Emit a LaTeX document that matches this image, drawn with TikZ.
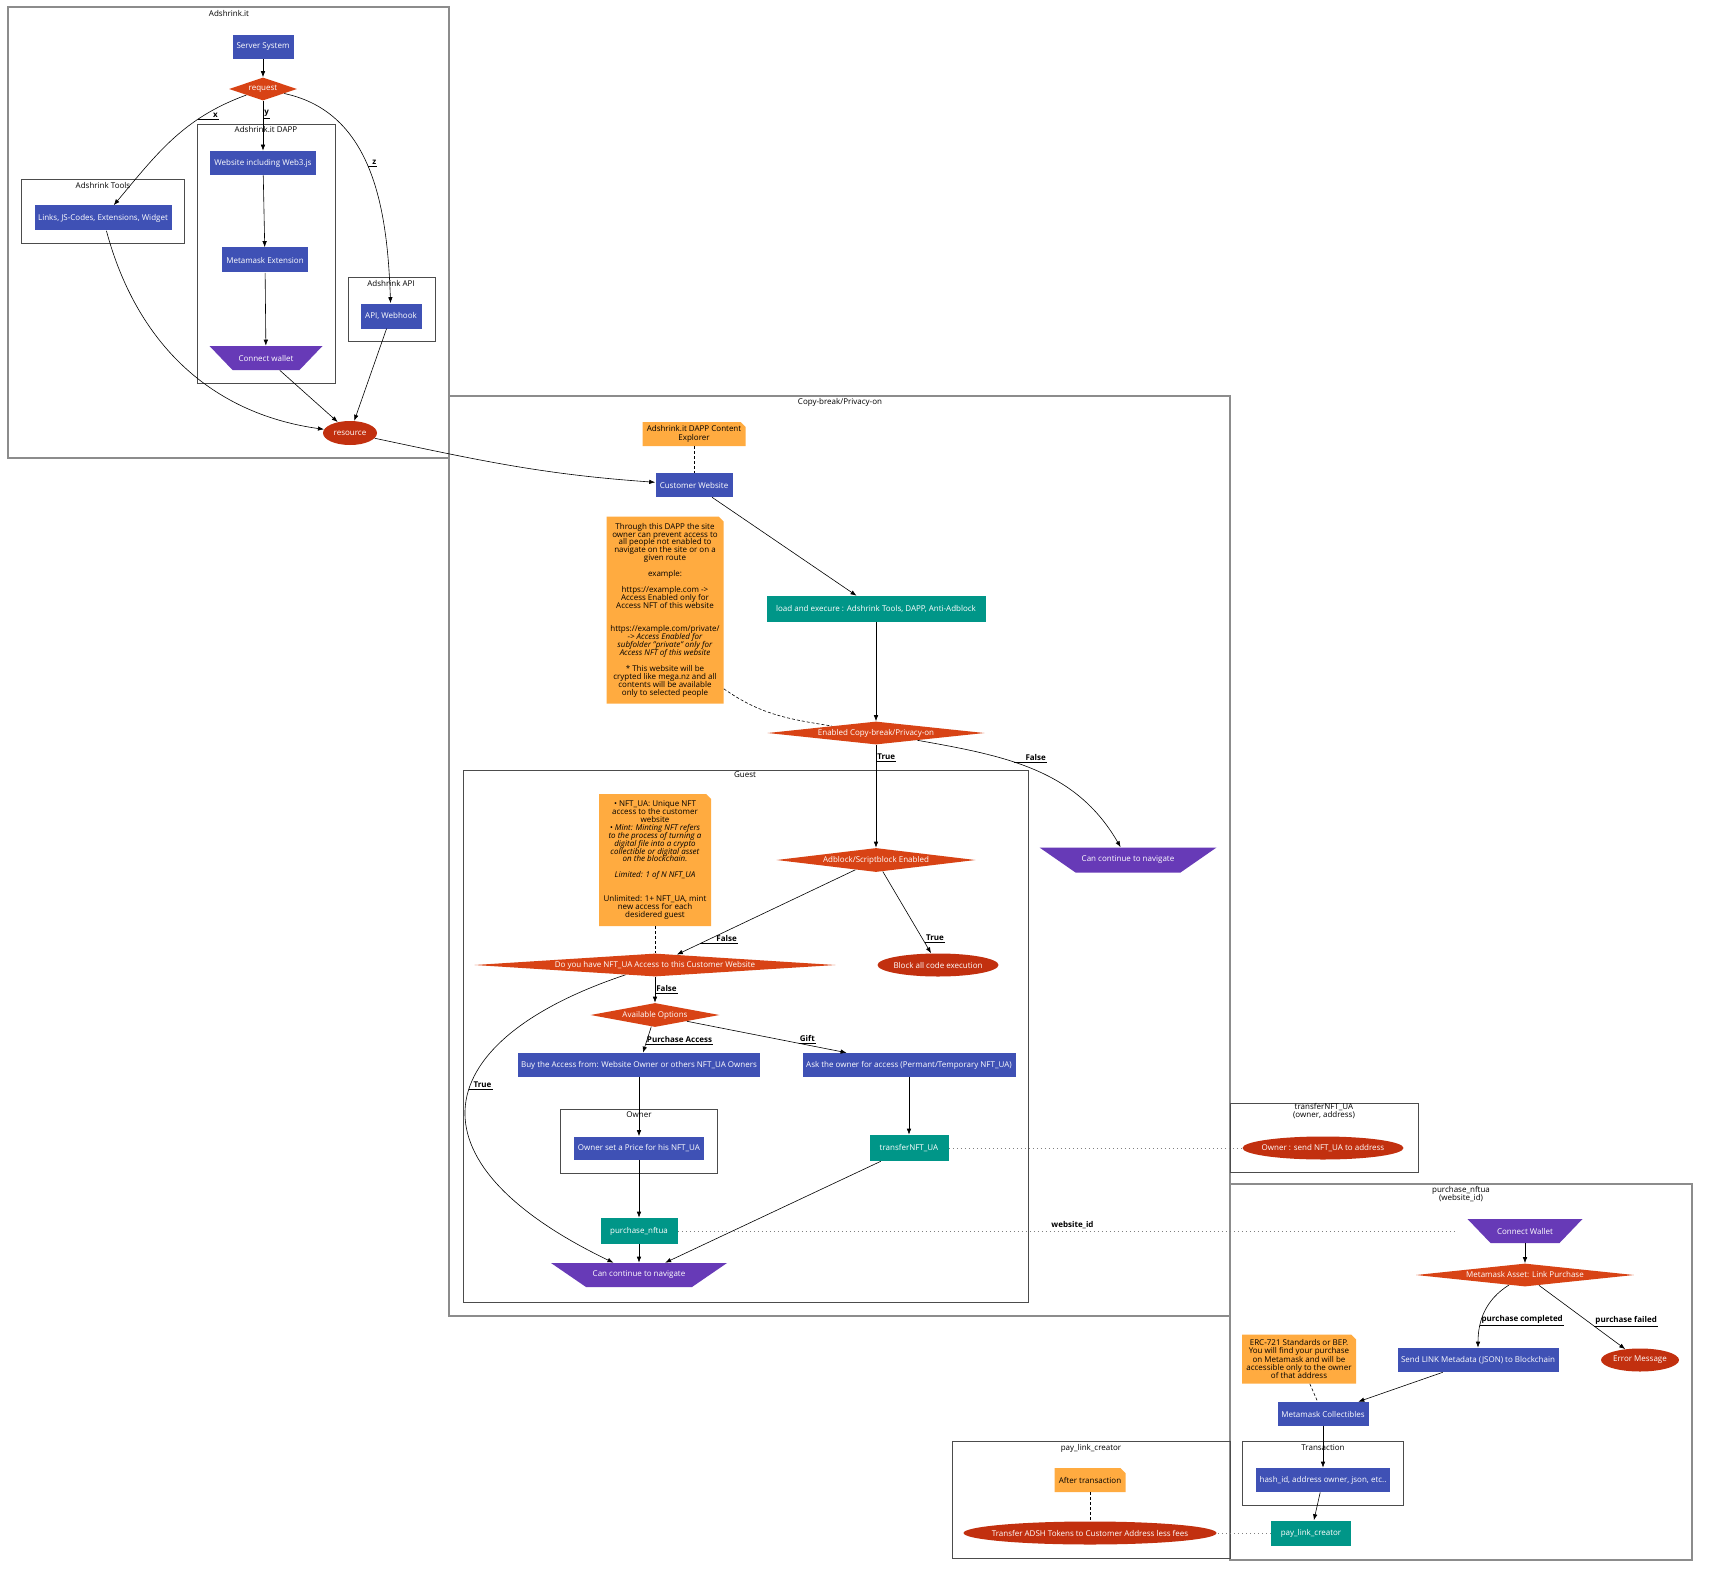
\documentclass[tikz,border=0pt]{standalone}
\usepackage{fontspec}
\setmainfont{Open Sans}
\usetikzlibrary{shapes.geometric,arrows.meta,calc}

\definecolor{taskblue}{HTML}{3F51B5}
\definecolor{execteal}{HTML}{009688}
\definecolor{decorange}{HTML}{D84315}
\definecolor{termred}{HTML}{C2300F}
\definecolor{iopurple}{HTML}{673AB7}
\definecolor{notefill}{HTML}{FFAB40}

\tikzset{
  every node/.style={font=\fontsize{8}{8.3}\selectfont},
  wh/.style 2 args={minimum width=#1, minimum height=#2},
  task/.style={rectangle, fill=taskblue, text=white, inner sep=0},
  exec/.style={rectangle, fill=execteal, text=white, inner sep=0},
  decision/.style={diamond, aspect=#1, fill=decorange, text=white, inner sep=0},
  term/.style={ellipse, fill=termred, text=white, inner xsep=-12pt, inner ysep=0},
  inout/.style={rectangle, inner sep=0, text=white, path picture={
      \fill[iopurple] (path picture bounding box.north west) -- (path picture bounding box.north east)
        -- ($(path picture bounding box.south east)+(-#1,0)$) -- ($(path picture bounding box.south west)+(#1,0)$) -- cycle;}},
  note/.style={rectangle, inner sep=0, align=center, path picture={
      \fill[notefill] (path picture bounding box.south west) -- (path picture bounding box.north west)
        -- ($(path picture bounding box.north east)+(-5,0)$) -- ($(path picture bounding box.north east)+(0,-5)$)
        -- (path picture bounding box.south east) -- cycle;}},
  longnote/.style={note, font={\fontsize{8}{7.9}\selectfont\setlength{\lineskiplimit}{-5pt}}},
  group/.style={draw=black!70, line width=0.8pt},
  biggroup/.style={draw=black!45, line width=1.2pt},
  gtitle/.style={inner sep=0, align=center},
  elabel/.style={font=\fontsize{8}{8.3}\selectfont\bfseries, inner xsep=1pt, inner ysep=1.5pt, anchor=south west},
  dlabel/.style={font=\fontsize{8}{8.3}\selectfont\bfseries, inner sep=2pt, anchor=south, text=black},
  notelink/.style={dash pattern=on 3pt off 2pt},
  dotlink/.style={gray, dash pattern=on 1pt off 3pt},
}

\begin{document}
\begin{tikzpicture}[x=1pt, y=1pt, >={Latex[length=6pt,width=4.5pt]}, line width=0.6pt]
\fill[white] (0,0) rectangle (1714,-1581);

\draw[biggroup] (8,-7) rectangle (449,-458);
\draw[group] (197,-124) rectangle (335,-383);
\draw[group] (21,-179) rectangle (184,-243);
\draw[group] (348,-277) rectangle (435,-341);
\draw[biggroup] (449,-396) rectangle (1230,-1316);
\draw[group] (463,-770) rectangle (1028,-1302);
\draw[group] (560,-1109) rectangle (717,-1173);
\draw[group] (1230,-1103) rectangle (1418,-1172);
\draw[biggroup] (1230,-1184) rectangle (1692,-1560);
\draw[group] (1242,-1441) rectangle (1403,-1505);
\draw[group] (952,-1441) rectangle (1230,-1558);

\node[gtitle] (t-adshrink) at (229,-14) {Adshrink.it};
\node[gtitle] (t-dapp) at (266,-130) {Adshrink.it DAPP};
\node[gtitle] (t-tools) at (103,-186) {Adshrink Tools};
\node[gtitle] (t-api) at (391,-284) {Adshrink API};
\node[gtitle] (t-copy) at (840,-402) {Copy-break/Privacy-on};
\node[gtitle] (t-guest) at (745,-775) {Guest};
\node[gtitle] (t-owner) at (639,-1115) {Owner};
\node[gtitle] (t-transfer) at (1324,-1111) {transferNFT\_UA\\(owner, address)};
\node[gtitle] (t-purchase) at (1461,-1194) {purchase\_nftua\\(website\_id)};
\node[gtitle] (t-transaction) at (1323,-1448) {Transaction};
\node[gtitle] (t-paylink) at (1091,-1448) {pay\_link\_creator};

\node[task, wh={61}{24}] (server) at (263,-47) {Server System};
\node[decision=3, wh={68}{23}] (request) at (263,-89) {request};
\node[task, wh={106}{24}] (website) at (263,-163) {Website including Web3.js};
\node[task, wh={86}{25}] (metaext) at (265,-260) {Metamask Extension};
\node[inout=23, wh={113}{24}] (connect) at (266,-358) {Connect wallet};
\node[task, wh={137}{25}] (links) at (103,-218) {Links, JS-Codes, Extensions, Widget};
\node[task, wh={61}{25}] (api) at (391,-316) {API, Webhook};
\node[term, wh={54}{24}] (resource) at (350,-433) {resource};

\node[note, wh={103}{24}] (explorer) at (694,-434) {Adshrink.it DAPP Content\\Explorer};
\node[task, wh={77}{24}] (customer) at (694,-485) {Customer Website};
\node[longnote, wh={117}{187}] (dappnote) at (665,-610) {Through this DAPP the site\\owner can prevent access to\\all people not enabled to\\navigate on the site or on a\\given route\\[7.9pt]example:\\[7.9pt]https://example.com ->\\Access Enabled only for\\Access NFT of this website\\[15.8pt]https://example.com/private/\\\textit{-> Access Enabled for}\\\textit{subfolder "private" only for}\\\textit{Access NFT of this website}\\[7.9pt]* This website will be\\crypted like mega.nz and all\\contents will be available\\only to selected people};
\node[exec, wh={219}{26}] (load) at (876,-609) {load and execure : Adshrink Tools, DAPP, Anti-Adblock};
\node[decision=10, wh={217}{23}] (enabled) at (876,-733) {Enabled Copy-break/Privacy-on};
\node[inout=36, wh={177}{25}] (navfree) at (1128,-860) {Can continue to navigate};

\node[longnote, wh={112}{132}] (nftnote) at (655,-860) {• NFT\_UA: Unique NFT\\access to the customer\\website\\\textit{• Mint: Minting NFT refers}\\\textit{to the process of turning a}\\\textit{digital file into a crypto}\\\textit{collectible or digital asset}\\\textit{on the blockchain.}\\[7.9pt]\textit{Limited: 1 of N NFT\_UA}\\[15.8pt]Unlimited: 1+ NFT\_UA, mint\\new access for each\\desidered guest};
\node[decision=9, wh={199}{24}] (adblock) at (876,-860) {Adblock/Scriptblock Enabled};
\node[decision=16, wh={361}{23}] (hasnft) at (655,-965) {Do you have NFT\_UA Access to this Customer Website};
\node[term, wh={121}{23}] (blockall) at (938,-965) {Block all code execution};
\node[decision=6, wh={129}{24}] (options) at (655,-1015) {Available Options};
\node[task, wh={242}{24}] (buy) at (639,-1065) {Buy the Access from: Website Owner or others NFT\_UA Owners};
\node[task, wh={213}{24}] (ask) at (909,-1065) {Ask the owner for access (Permant/Temporary NFT\_UA)};
\node[task, wh={130}{23}] (price) at (639,-1148) {Owner set a Price for his NFT\_UA};
\node[exec, wh={79}{26}] (transfer) at (909,-1148) {transferNFT\_UA};
\node[exec, wh={77}{26}] (purchase) at (639,-1231) {purchase\_nftua};
\node[inout=35, wh={176}{24}] (navguest) at (639,-1275) {Can continue to navigate};

\node[term, wh={161}{23}] (sendnft) at (1323,-1148) {Owner : send NFT\_UA to address};

\node[inout=23, wh={115}{24}] (wallet) at (1525,-1231) {Connect Wallet};
\node[decision=10, wh={218}{23}] (asset) at (1525,-1275) {Metamask Asset: Link Purchase};
\node[task, wh={161}{24}] (sendlink) at (1478,-1360) {Send LINK Metadata (JSON) to Blockchain};
\node[term, wh={78}{23}] (error) at (1640,-1360) {Error Message};
\node[note, wh={114}{49}] (ercnote) at (1299,-1359) {ERC-721 Standards or BEP.\\You will find your purchase\\on Metamask and will be\\accessible only to the owner\\of that address};
\node[task, wh={91}{24}] (collect) at (1323,-1414) {Metamask Collectibles};
\node[task, wh={134}{24}] (hash) at (1323,-1480) {hash\_id, address owner, json, etc..};
\node[exec, wh={80}{25}] (paylink) at (1311,-1533) {pay\_link\_creator};

\node[note, wh={71}{24}] (afternote) at (1090,-1480) {After transaction};
\node[term, wh={253}{23}] (adsh) at (1090,-1533) {Transfer ADSH Tokens to Customer Address less fees};

\draw[->] (server) -- (request);
\draw[->] (request) to[out=200, in=50] node[elabel, pos=.3] (lx) {\hspace*{14pt}x} (links);
\draw[->] (request) -- node[elabel, pos=.35] (ly) {y} (website);
\draw[->] (request) to[out=-12, in=92] node[elabel, pos=.48] (lz) {\hspace*{3pt}z} (api);
\draw[->] (website) -- (metaext);
\draw[->] (metaext) -- (connect);
\draw[->] (links) to[out=-75, in=172] (resource);
\draw[->] (connect) -- (resource);
\draw[->] (api) -- (resource);
\draw[->] (resource) to[out=-12, in=176] (customer);

\draw[notelink] (explorer) -- (customer);
\draw[->] (customer) -- (load);
\draw[->] (load) -- (enabled);
\draw[notelink] ([yshift=15]dappnote.south east) to[out=-35, in=171] (enabled);
\draw[->] (enabled) -- node[elabel, pos=.16] (ltrue1) {True} (adblock);
\draw[->] (enabled) to[out=-10, in=120] node[elabel, pos=.4] (lfalse1) {\hspace*{10pt}False} (navfree);

\draw[->] (adblock) -- node[elabel, pos=.87] (lfalse2) {\hspace*{15pt}False} (hasnft);
\draw[->] (adblock) -- node[elabel, pos=.87] (ltrue2) {True} (blockall);
\draw[notelink] (nftnote) -- (hasnft);
\draw[->] (hasnft) -- node[elabel, pos=.65] (lfalse3) {False} (options);
\draw[->] (hasnft) .. controls (430,-1040) and (400,-1160) .. node[elabel, pos=.45] (ltrue3) {\hspace*{3pt}True} (navguest);
\draw[->] (options) -- node[elabel, pos=.67] (lbuy) {Purchase Access} (buy);
\draw[->] (options) -- node[elabel, pos=.7] (lgift) {Gift} (ask);
\draw[->] (buy) -- (price);
\draw[->] (ask) -- (transfer);
\draw[->] (price) -- (purchase);
\draw[->] (purchase) -- (navguest);
\draw[->] (transfer) -- (navguest);

\draw[dotlink] (transfer) -- (sendnft);
\draw[dotlink, shorten >=11pt] (purchase) -- node[dlabel, pos=.5] (lsite) {website\_id} (wallet);
\draw[->] (wallet) -- (asset);
\draw[->] (asset) to[out=212, in=90] node[elabel, pos=.7] (ldone) {purchase completed} (sendlink);
\draw[->] (asset) -- node[elabel, pos=.64] (lfail) {purchase failed} (error);
\draw[->] (sendlink) -- (collect);
\draw[notelink] (ercnote) -- (collect);
\draw[->] (collect) -- (hash);
\draw[->] (hash) -- (paylink);
\draw[dotlink] (paylink) -- (adsh);
\draw[notelink] (afternote) -- (adsh);

\foreach \lbl in {lx,ly,lz,ltrue1,lfalse1,lfalse2,ltrue2,lfalse3,ltrue3,lbuy,lgift,ldone,lfail}
  \draw (\lbl.south west) -- (\lbl.south east);
\end{tikzpicture}
\end{document}
